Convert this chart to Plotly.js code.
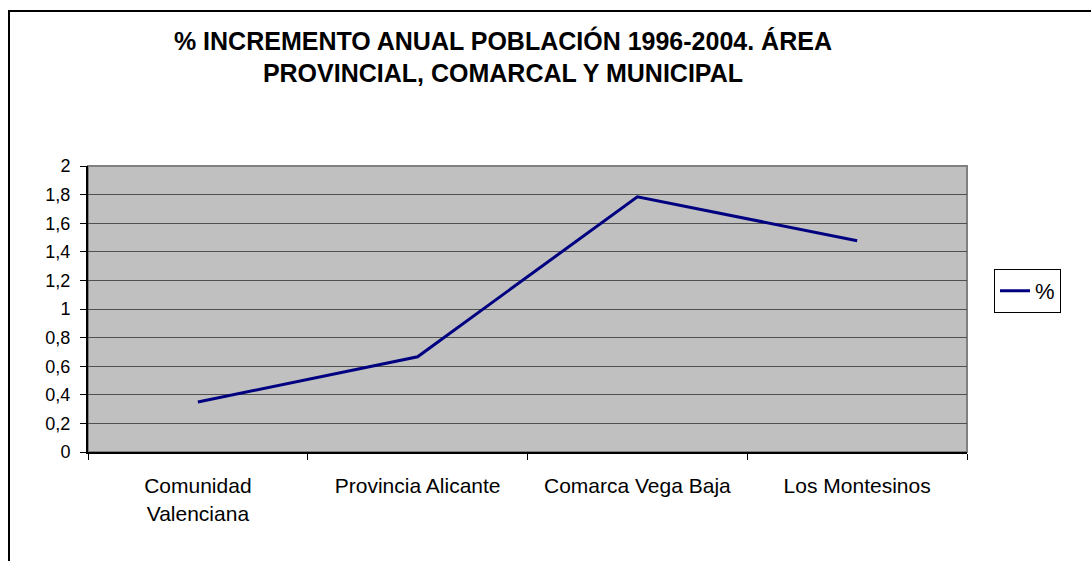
<!DOCTYPE html>
<html>
<head>
<meta charset="utf-8">
<script src="https://cdn.plot.ly/plotly-3.0.1.min.js"></script>
<style>
  html, body { margin: 0; padding: 0; background: #ffffff; overflow: hidden; }
  #chart { width: 1091px; height: 561px; position: absolute; left: 0; top: 0; }
  #frame { position: absolute; left: 8px; top: 10px; width: 1200px; height: 700px;
           border: 2px solid #000000; pointer-events: none; }
</style>
</head>
<body>
<div id="chart"></div>
<div id="frame"></div>
<script>
// Data
const categories = ["Comunidad<br>Valenciana", "Provincia Alicante", "Comarca Vega Baja", "Los Montesinos"];
const seriesName = "%";
const values = [0.35, 0.666, 1.785, 1.477];
const yTickVals = [0, 0.2, 0.4, 0.6, 0.8, 1, 1.2, 1.4, 1.6, 1.8, 2];
const yTickText = ["0", "0,2", "0,4", "0,6", "0,8", "1", "1,2", "1,4", "1,6", "1,8", "2"];
const titleText = "% INCREMENTO ANUAL POBLACIÓN 1996-2004. ÁREA<br>PROVINCIAL, COMARCAL Y MUNICIPAL";

const trace = {
  type: "scatter",
  mode: "lines",
  x: categories,
  y: values,
  name: seriesName,
  line: { color: "#000080", width: 3 },
  showlegend: true,
  hoverinfo: "x+y"
};

const layout = {
  width: 1091,
  height: 561,
  margin: { l: 88, r: 124, t: 166, b: 109 },
  paper_bgcolor: "#ffffff",
  plot_bgcolor: "#c0c0c0",
  font: { family: "Liberation Sans, Arial, sans-serif", color: "#000000", size: 18 },
  title: {
    text: titleText,
    font: { family: "Liberation Sans, Arial, sans-serif", size: 25, color: "#000000", weight: "bold" },
    xref: "container", x: 0.461, xanchor: "center",
    yref: "container", y: 0.911, yanchor: "top"
  },
  xaxis: {
    type: "category",
    range: [-0.5, 3.5],
    tickson: "boundaries",
    ticks: "outside",
    ticklen: 6,
    tickwidth: 1,
    tickcolor: "#000000",
    showline: true,
    linecolor: "#000000",
    linewidth: 2,
    showgrid: false,
    zeroline: false,
    tickfont: { size: 21 },
    ticklabelstandoff: 14,
    fixedrange: true
  },
  yaxis: {
    range: [0, 2],
    tickmode: "array",
    tickvals: yTickVals,
    ticktext: yTickText,
    ticks: "outside",
    ticklen: 6,
    tickwidth: 1,
    tickcolor: "#000000",
    showline: true,
    linecolor: "#000000",
    linewidth: 2,
    showgrid: true,
    gridcolor: "#505050",
    gridwidth: 1,
    zeroline: false,
    tickfont: { size: 18 },
    ticklabelstandoff: 6,
    fixedrange: true
  },
  legend: {
    x: 1.0307, xanchor: "left",
    y: 0.64, yanchor: "top",
    bgcolor: "#ffffff",
    bordercolor: "#000000",
    borderwidth: 1,
    font: { size: 22 }
  },
  shapes: [
    { type: "rect", xref: "paper", yref: "paper", x0: 0, x1: 1, y0: 0, y1: 1,
      line: { color: "#808080", width: 2 }, fillcolor: "rgba(0,0,0,0)", layer: "below" }
  ]
};

Plotly.newPlot("chart", [trace], layout, { displayModeBar: false, staticPlot: true });
</script>
</body>
</html>
